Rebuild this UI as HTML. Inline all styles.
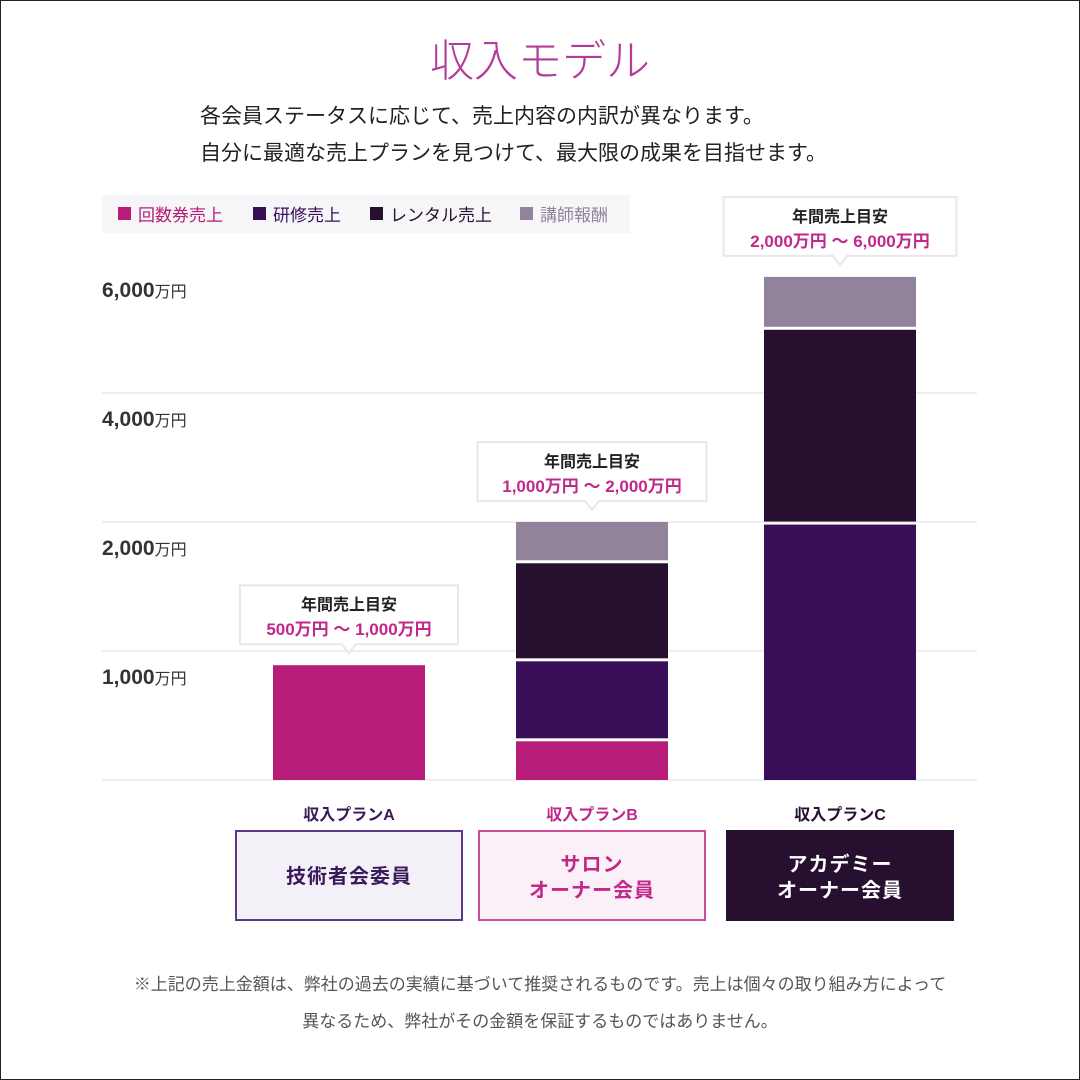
<!DOCTYPE html>
<html><head><meta charset="utf-8"><style>
html,body{margin:0;padding:0;background:#fff}
#wrap{position:relative;width:1078px;height:1078px;border:1px solid #222;overflow:hidden;font-family:"Liberation Sans","Noto Sans CJK JP",sans-serif}
svg text{font-family:"Liberation Sans","Noto Sans CJK JP",sans-serif}
</style></head><body>
<div id="wrap">
<svg id="chart" width="1078" height="1078" viewBox="1 1 1078 1078">
<text x="540" y="76" text-anchor="middle" font-size="44" font-weight="300" fill="#b43c98">収入モデル</text>
<text x="200" y="123" font-size="21" fill="#222">各会員ステータスに応じて、売上内容の内訳が異なります。</text>
<text x="200" y="160" font-size="21" fill="#222">自分に最適な売上プランを見つけて、最大限の成果を目指せます。</text>
<g>
<rect x="102" y="195" width="528" height="38" fill="#f6f5f8"/>
<g id="legend-items"></g>
</g>
<g id="grid"></g>
<g id="bars"></g>
<g id="callouts"></g>
<g id="plans"></g>
<text x="540" y="990" text-anchor="middle" font-size="17" fill="#555">※上記の売上金額は、弊社の過去の実績に基づいて推奨されるものです。売上は個々の取り組み方によって</text>
<text x="540" y="1027" text-anchor="middle" font-size="17" fill="#555">異なるため、弊社がその金額を保証するものではありません。</text>
</svg>
</div>
<script>
const seriesNames = ["回数券売上","研修売上","レンタル売上","講師報酬"];
const seriesColors = ["#b61c78","#3a0d59","#260f2f","#92839c"];
const categories = ["収入プランA","収入プランB","収入プランC"];
const kaisuken = [890, 300, 0];
const kenshu = [0, 620, 1980];
const rental = [0, 760, 3000];
const koshi = [0, 320, 820];
const tickValues = [0, 1000, 2000, 4000, 6000];
const tickLabels = ["", "1,000", "2,000", "4,000", "6,000"];
const rangeLabels = ["500万円 ～ 1,000万円","1,000万円 ～ 2,000万円","2,000万円 ～ 6,000万円"];
const memberNames = [["技術者会委員"],["サロン","オーナー会員"],["アカデミー","オーナー会員"]];

const NS="http://www.w3.org/2000/svg";
function el(tag, attrs, parent, text){const e=document.createElementNS(NS,tag);for(const k in attrs)e.setAttribute(k,attrs[k]);if(text!==undefined)e.textContent=text;parent.appendChild(e);return e;}
const y0=780, step=129;
function yScale(v){
  for(let i=1;i<tickValues.length;i++){
    if(v<=tickValues[i]||i===tickValues.length-1){
      const a=tickValues[i-1],b=tickValues[i];
      return y0-step*(i-1)-step*(v-a)/(b-a);
    }
  }
}
const xCenters=[349,592,840], barW=152;
function xScale(i){return xCenters[i];}

// legend
const lg=document.getElementById('legend-items');
const legX=[118,253,370,520];
seriesNames.forEach((n,i)=>{
  const g=el('g',{},lg);
  
  
  el('rect',{x:legX[i],y:207,width:13,height:13,fill:seriesColors[i]},g);
  el('text',{x:legX[i]+20,y:221,'font-size':17,fill:seriesColors[i]},g,n);
});

// grid
const grid=document.getElementById('grid');
tickValues.forEach((v,i)=>{
  const y=yScale(v);
  if(i<4){const l=el('line',{x1:102,x2:977,y1:y,y2:y,stroke:'#eeeeee','stroke-width':2},grid);
  
  }
  if(tickLabels[i]){
    const t=el('text',{x:102,y:y+33,'font-size':21,'font-weight':'bold',fill:'#333'},grid);
    
    
    el('tspan',{},t,tickLabels[i]);
    el('tspan',{'font-size':16,'font-weight':'normal'},t,'万円');
  }
});

// bars
const bars=document.getElementById('bars');
const series=[kaisuken,kenshu,rental,koshi];
categories.forEach((c,ci)=>{
  let acc=0, first=true;
  series.forEach((s,si)=>{
    const v=s[ci]; if(!v) return;
    const yb=yScale(acc), yt=yScale(acc+v);
    const r=el('rect',{x:xScale(ci)-barW/2,y:yt,width:barW,height:Math.max(0,yb-yt-(first?0:3)),fill:seriesColors[si]},bars);
    
    
    acc+=v; first=false;
  });
  // callout
  const top=yScale(acc);
  const cg=el('g',{},document.getElementById('callouts'));
  
  
  const bw=[218,229,233][ci], cx=xScale(ci), by=top-80;
  el('path',{d:`M${cx-bw/2} ${by} h${bw} v59 h${-bw/2+7} l-7 9 l-7 -9 h${-bw/2+7} z`,fill:'#fff',stroke:'#ebe6ee','stroke-width':2},cg);
  el('text',{x:cx,y:by+25,'text-anchor':'middle','font-size':16,'font-weight':'bold',fill:'#222'},cg,'年間売上目安');
  el('text',{x:cx,y:by+50,'text-anchor':'middle','font-size':17,'font-weight':'bold',fill:'#c0288a'},cg,rangeLabels[ci]);
  // plan labels
  const pg=el('g',{},document.getElementById('plans'));
  
  
  const pc=['#3a1a5a','#c0288a','#260f2f'][ci];
  el('text',{x:cx,y:820,'text-anchor':'middle','font-size':16,'font-weight':'bold',fill:pc},pg,c);
  const fills=['#f3f1f7','#fbf0f7','#260f2f'], strokes=['#5a3a86','#d04a9e','#260f2f'], tc=['#3a1a5a','#c0288a','#fff'];
  el('rect',{x:cx-113,y:831,width:226,height:89,fill:fills[ci],stroke:strokes[ci],'stroke-width':2},pg);
  const lines=memberNames[ci];
  lines.forEach((ln,li)=>{
    el('text',{x:cx,y:(lines.length===1?883:871+li*26),'text-anchor':'middle','font-size':20,'font-weight':'bold',fill:tc[ci],'letter-spacing':'1'},pg,ln);
  });
});
</script>
</body></html>
